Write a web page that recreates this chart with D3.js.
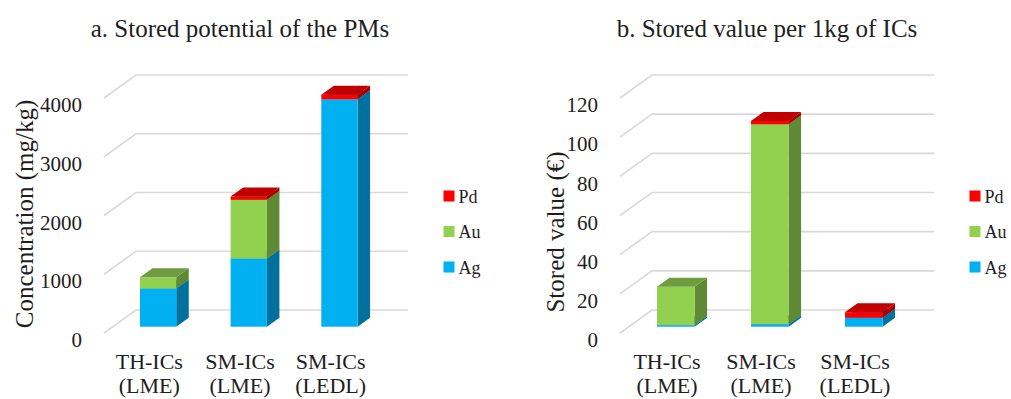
<!DOCTYPE html>
<html>
<head>
<meta charset="utf-8">
<script src="https://cdn.jsdelivr.net/npm/d3@7"></script>
<style>
  html, body { margin: 0; padding: 0; background: #fff; }
  svg { display: block; }
  text { font-family: "Liberation Serif", "Times New Roman", serif; fill: #1e1e1e; }
</style>
</head>
<body>
<svg id="chart" width="1011" height="399"></svg>
<script>
// Category labels (two lines each)
const catLine1 = ["TH-ICs", "SM-ICs", "SM-ICs"];
const catLine2 = ["(LME)", "(LME)", "(LEDL)"];
const metals = ["Ag", "Au", "Pd"];

// a. Stored potential of the PMs (mg/kg)
const concAg = [650, 1160, 3870];
const concAu = [190, 1000, 0];
const concPd = [0, 55, 80];
const concTicks = [0, 1000, 2000, 3000, 4000];

// b. Stored value per 1kg of ICs (€)
const valAg = [0.8, 1.3, 4.6];
const valAu = [19.6, 102.1, 0];
const valPd = [0, 1.7, 2.8];
const valTicks = [0, 20, 40, 60, 80, 100, 120];

// Face colours for each metal: front, side, top
const faces = {
  Ag: { front: "#00b0f0", side: "#00709c", top: "#0090c4" },
  Au: { front: "#92d050", side: "#5f8a33", top: "#6e9c3e" },
  Pd: { front: "#ff0000", side: "#a80000", top: "#c00000" }
};

const svg = d3.select("#chart");

function drawPanel(opts) {
  const { x0, width, yMax, ticks, ag, au, pd, title, titleX, yLabel, yLabelY, legendX } = opts;
  const floorY = 333, topY = 98;
  const depth = [32, -23];          // full floor depth vector
  const f1 = 0.274, f2 = 0.665;     // bar front / back depth fractions

  const g = svg.append("g");

  const x = d3.scaleBand().domain(d3.range(catLine1.length)).range([x0, x0 + width]);
  const y = d3.scaleLinear().domain([0, yMax]).range([floorY, topY]);

  // gridlines: side diagonal + back wall line
  const grid = g.append("g").attr("stroke", "#d9d9d9").attr("stroke-width", 1.6).attr("fill", "none");
  ticks.forEach(t => {
    const yf = y(t);
    grid.append("path").attr("d",
      `M${x0},${yf}L${x0 + depth[0]},${yf + depth[1]}L${x0 + width + depth[0]},${yf + depth[1]}`);
  });

  // y axis labels
  const axis = d3.axisLeft(y).tickValues(ticks).tickSize(0).tickPadding(0).tickFormat(d3.format("d"));
  const ax = g.append("g").attr("transform", `translate(${x0 - 22},7)`).call(axis);
  ax.select(".domain").remove();
  ax.selectAll("text").style("font-family", '"Liberation Serif", serif')
    .style("font-size", "21px").attr("fill", "#1e1e1e");

  // stacked 3D columns
  const rows = catLine1.map((c, i) => ({ i, Ag: ag[i], Au: au[i], Pd: pd[i] }));
  const series = d3.stack().keys(metals)(rows);

  const bw = x.bandwidth() * 0.4;
  const fx = depth[0] * f1, fy = depth[1] * f1;
  const dx = depth[0] * (f2 - f1), dy = depth[1] * (f2 - f1);

  const bars = g.append("g");
  rows.forEach((r, i) => {
    const left = x(i) + (x.bandwidth() - bw) / 2 + fx;
    series.forEach(s => {
      const [v0, v1] = s[i];
      if (v1 - v0 <= 0) return;
      const c = faces[s.key];
      const yb = y(v0) + fy, yt = y(v1) + fy;
      const right = left + bw;
      bars.append("path").attr("fill", c.side).attr("d",
        `M${right},${yb}L${right + dx},${yb + dy}L${right + dx},${yt + dy}L${right},${yt}Z`);
      bars.append("rect").attr("fill", c.front)
        .attr("x", left).attr("y", yt).attr("width", bw).attr("height", yb - yt);
      bars.append("path").attr("fill", c.top).attr("d",
        `M${left},${yt}L${right},${yt}L${right + dx},${yt + dy}L${left + dx},${yt + dy}Z`);
    });
  });

  // category labels
  const cats = g.append("g").attr("text-anchor", "middle").style("font-size", "22px");
  catLine1.forEach((c, i) => {
    const cx = x(i) + x.bandwidth() / 2;
    const t = cats.append("text").attr("x", cx).attr("y", 369);
    t.append("tspan").attr("x", cx).text(c);
    t.append("tspan").attr("x", cx).attr("dy", 23.5).text(catLine2[i]);
  });

  // title
  g.append("text").attr("x", titleX).attr("y", 37).attr("text-anchor", "middle")
    .style("font-size", "25px").text(title);

  // y axis title
  g.append("text")
    .attr("transform", `translate(${yLabel.x},${yLabelY}) rotate(-90)`)
    .attr("text-anchor", "middle").style("font-size", "25px").text(yLabel.text);

  // legend (Pd on top)
  const leg = g.append("g");
  metals.slice().reverse().forEach((m, k) => {
    const cy = 196 + k * 35.5;
    leg.append("rect").attr("x", legendX).attr("y", cy - 5.5).attr("width", 11).attr("height", 11)
      .attr("fill", faces[m].front);
    leg.append("text").attr("x", legendX + 15).attr("y", cy + 6.5).style("font-size", "18px").text(m);
  });
}

drawPanel({
  x0: 104, width: 272, yMax: 4000, ticks: concTicks,
  ag: concAg, au: concAu, pd: concPd,
  title: "a. Stored potential of the PMs", titleX: 240,
  yLabel: { x: 33, text: "Concentration (mg/kg)" }, yLabelY: 214,
  legendX: 443.5
});

drawPanel({
  x0: 620, width: 282, yMax: 120, ticks: valTicks,
  ag: valAg, au: valAu, pd: valPd,
  title: "b. Stored value per 1kg of ICs", titleX: 767,
  yLabel: { x: 564, text: "Stored value (€)" }, yLabelY: 232,
  legendX: 969.5
});
</script>
</body>
</html>
